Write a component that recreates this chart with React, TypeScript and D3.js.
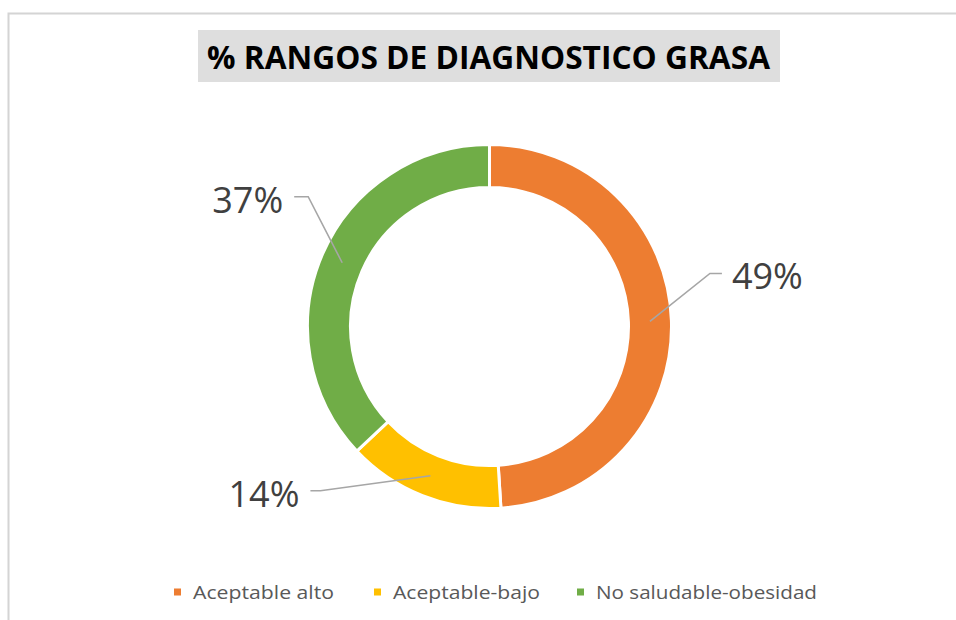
import React from "react";
import * as d3 from "d3";

const categories = ["Aceptable alto", "Aceptable-bajo", "No saludable-obesidad"];
const values = [49, 14, 37];
const colors = ["#ED7D31", "#FFC000", "#70AD47"];
const title = "% RANGOS DE DIAGNOSTICO GRASA";

// layout of leader lines (offsets from arc centroid)
const labelLayout = [
  { dx: 60, dy: -48, hx: 12, side: 1 },
  { dx: -110, dy: 15, hx: -10, side: -1 },
  { dx: -34, dy: -66, hx: -14, side: -1 },
];
const legendX = [174, 374, 577];
const legendW = [141, 147, 221];

export default function App() {
  const W = 956, H = 620;
  const cx = 489.5, cy = 326.5;
  const rOuter = 182, rInner = 139;
  const pie = d3.pie<number>().sort(null).value((d) => d).startAngle(0).endAngle(2 * Math.PI);
  const arcs = pie(values);
  const arc = d3.arc<d3.PieArcDatum<number>>().innerRadius(rInner).outerRadius(rOuter);
  const font = "'Open Sans', 'Noto Sans', sans-serif";
  return (
    <svg width={W} height={H} style={{ position: "absolute", left: 0, top: 0, display: "block" }}>
      <rect x={0} y={0} width={W} height={H} fill="#ffffff" />
      <path d={`M8.5,${H} L8.5,13.5 L${W},13.5`} fill="none" stroke="#d4d4d4" strokeWidth={2} />
      <rect x={198} y={30} width={582} height={52} fill="#dedede" />
      <text x={207} y={69} fontFamily={font} fontWeight={700} fontSize={32} fill="#000"
        textLength={563} lengthAdjust="spacingAndGlyphs">{title}</text>
      <g transform={`translate(${cx},${cy})`}>
        {arcs.map((a, i) => (
          <path key={i} d={arc(a) || ""} fill={colors[i]} stroke="#fff" strokeWidth={3} />
        ))}
      </g>
      {arcs.map((a, i) => {
        const [px, py] = arc.centroid(a);
        const sx = cx + px, sy = cy + py;
        const L = labelLayout[i];
        const ex = sx + L.dx, ey = sy + L.dy;
        const hx = ex + L.hx;
        const tx = hx + (L.side > 0 ? 10 : -11);
        return (
          <g key={i}>
            <polyline points={`${sx},${sy} ${ex},${ey} ${hx},${ey}`} fill="none" stroke="#a6a6a6" strokeWidth={1.6} />
            <text x={tx} y={ey + 16} fontFamily={font} fontSize={36} fill="#404040"
              textAnchor={L.side > 0 ? "start" : "end"}>{`${values[i]}%`}</text>
          </g>
        );
      })}
      {categories.map((c, i) => (
        <g key={c}>
          <rect x={legendX[i]} y={588.5} width={7} height={7} fill={colors[i]} />
          <text x={legendX[i] + 19} y={598.5} fontFamily={font} fontSize={18} fill="#595959"
            textLength={legendW[i]} lengthAdjust="spacingAndGlyphs">{c}</text>
        </g>
      ))}
    </svg>
  );
}
